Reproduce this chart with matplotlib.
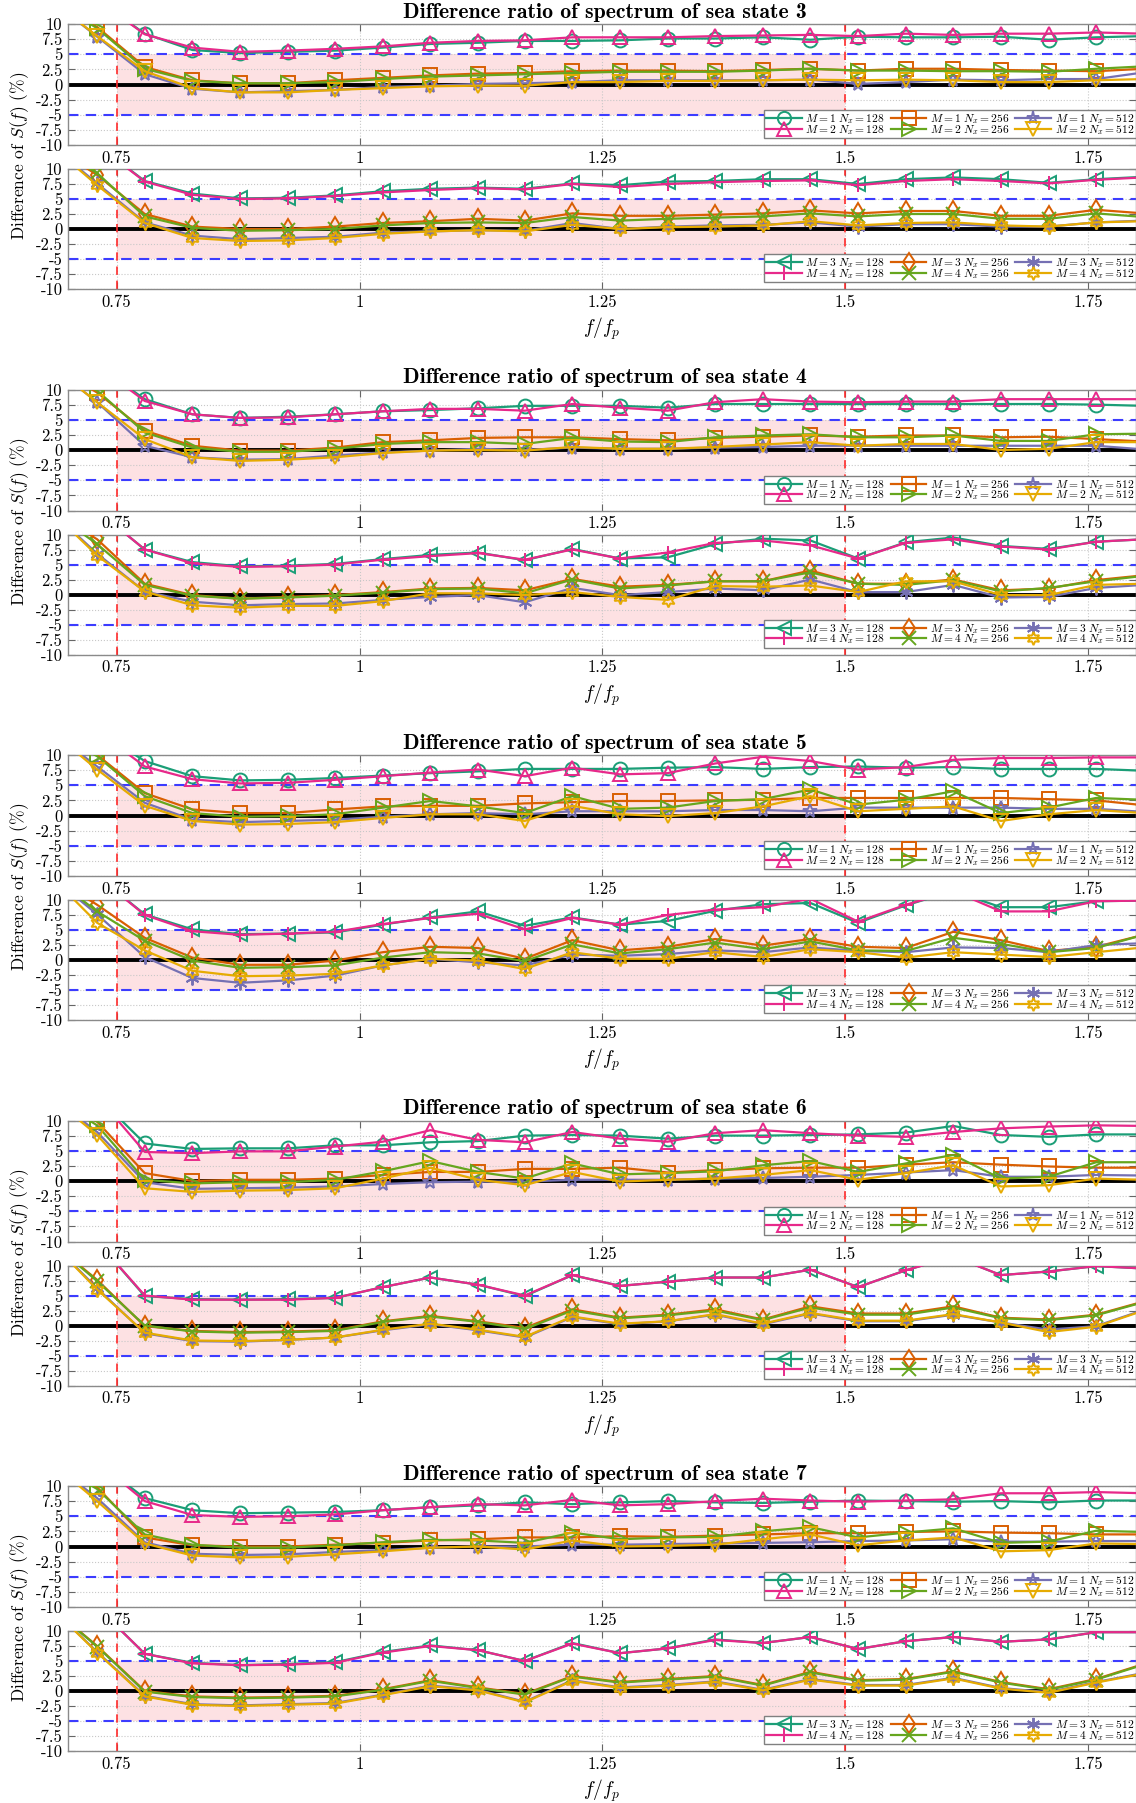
import matplotlib
matplotlib.use("Agg")
import matplotlib.pyplot as plt

plt.rcParams['font.family'] = 'cmr10'
plt.rcParams['mathtext.fontset'] = 'cm'
plt.rcParams['axes.unicode_minus'] = False

# frequency grid f/fp (first and last points fall outside the x range)
f_ratio = [0.682, 0.730, 0.779, 0.828, 0.877, 0.926, 0.975, 1.024, 1.073, 1.122, 1.170, 1.219,
           1.268, 1.317, 1.366, 1.415, 1.464, 1.513, 1.562, 1.611, 1.660, 1.709, 1.758, 1.807]

sea_states = [3, 4, 5, 6, 7]

# ---- sea state 3 ----
ss3_m1_128 = [20, 14, 8.4, 5.7, 5.2, 5.4, 5.6, 6.1, 6.7, 6.9, 7.2, 7.2, 7.3, 7.6, 7.6, 7.8, 7.4, 7.9, 7.8, 7.8, 7.9, 7.4, 7.8, 8.0]
ss3_m1_256 = [14, 9.5, 2.9, 0.7, 0.2, 0.2, 0.7, 1.1, 1.5, 1.8, 1.9, 2.2, 2.3, 2.3, 2.2, 2.4, 2.6, 2.3, 2.6, 2.6, 2.4, 2.3, 2.2, 2.6]
ss3_m1_512 = [14, 7.9, 1.7, -0.7, -1.3, -1.1, -0.9, -0.4, -0.2, 0.1, 0.2, 0.4, 0.7, 0.7, 0.7, 0.7, 0.8, 0.1, 0.4, 0.8, 0.7, 0.9, 0.9, 2.0]
ss3_m2_128 = [20, 14, 8.3, 6.1, 5.4, 5.6, 5.9, 6.3, 6.9, 7.2, 7.3, 7.8, 7.8, 7.8, 8.0, 8.1, 8.2, 8.0, 8.4, 8.2, 8.4, 8.4, 8.6, 8.4]
ss3_m2_256 = [14, 9.3, 2.6, 0.6, 0.2, 0.2, 0.4, 0.9, 1.3, 1.5, 1.7, 1.9, 2.1, 2.1, 2.1, 2.3, 2.6, 2.3, 2.3, 2.2, 2.2, 2.1, 2.6, 3.0]
ss3_m2_512 = [14, 8.0, 2.2, -0.6, -1.3, -1.3, -0.9, -0.6, -0.3, -0.2, -0.2, 0.4, 0.4, 0.6, 0.6, 0.7, 0.8, 0.7, 0.8, 0.7, 0.4, 0.4, 0.7, 0.9]
ss3_m3_128 = [20, 14, 8.0, 5.9, 5.1, 5.2, 5.6, 6.3, 6.7, 6.9, 6.7, 7.6, 7.3, 7.9, 8.0, 8.3, 8.3, 7.5, 8.3, 8.6, 8.3, 7.7, 8.3, 8.7]
ss3_m3_256 = [14, 9.0, 2.5, 0.4, 0.0, 0.0, 0.4, 1.0, 1.3, 1.7, 1.4, 2.6, 2.2, 2.2, 2.4, 2.6, 3.1, 2.6, 3.0, 3.0, 2.2, 2.2, 3.2, 2.6]
ss3_m3_512 = [14, 7.6, 1.1, -1.1, -1.7, -1.5, -1.3, -0.6, -0.4, -0.2, -0.3, 1.0, 0.0, 0.4, 0.6, 0.7, 1.1, 0.4, 0.8, 0.8, 0.4, 0.4, 1.1, 1.4]
ss3_m4_128 = [20, 14, 7.9, 5.7, 5.0, 5.1, 5.5, 6.1, 6.5, 6.8, 6.6, 7.5, 7.0, 7.5, 7.8, 8.0, 8.1, 7.3, 8.0, 8.3, 8.0, 7.6, 8.2, 8.6]
ss3_m4_256 = [14, 9.3, 2.1, 0.2, -0.3, -0.2, 0.0, 0.6, 1.0, 1.1, 1.0, 2.0, 1.4, 1.7, 1.9, 2.1, 2.6, 2.1, 2.5, 2.5, 1.7, 1.7, 2.6, 2.0]
ss3_m4_512 = [14, 7.3, 1.0, -1.5, -2.0, -1.9, -1.5, -0.8, -0.4, -0.2, -0.4, 0.7, 0.0, 0.3, 0.4, 0.6, 1.3, 0.6, 1.0, 1.1, 0.6, 0.4, 1.1, 1.3]

# ---- sea state 4 ----
ss4_m1_128 = [20, 14, 8.4, 5.9, 5.3, 5.5, 5.9, 6.4, 6.6, 6.9, 7.3, 7.3, 7.3, 7.0, 7.6, 7.6, 7.6, 7.6, 7.6, 7.6, 7.6, 7.6, 7.5, 7.3]
ss4_m1_256 = [14, 9.5, 3.2, 0.7, -0.1, -0.1, 0.4, 1.3, 1.6, 2.0, 2.1, 2.1, 1.8, 1.6, 2.0, 2.2, 2.4, 2.2, 2.4, 2.4, 2.1, 2.2, 1.8, 1.4]
ss4_m1_512 = [14, 7.9, 0.7, -1.2, -1.6, -1.5, -0.9, -0.4, -0.1, 0.2, 0.0, 0.4, 0.2, 0.2, 0.4, 0.5, 0.7, 0.7, 0.7, 0.7, 0.7, 0.7, 0.7, 0.1]
ss4_m2_128 = [20, 14, 8.1, 5.9, 5.3, 5.4, 5.9, 6.4, 6.8, 6.8, 6.5, 7.6, 7.0, 6.5, 7.9, 8.4, 8.0, 7.9, 8.0, 8.0, 8.4, 8.4, 8.4, 8.4]
ss4_m2_256 = [14, 9.8, 2.9, 0.4, -0.3, -0.3, 0.2, 1.0, 1.3, 1.3, 1.0, 2.0, 1.4, 1.3, 2.1, 2.4, 2.6, 2.1, 2.1, 2.4, 1.5, 1.5, 2.6, 2.7]
ss4_m2_512 = [14, 7.9, 1.8, -1.2, -1.8, -1.6, -1.2, -0.5, -0.1, 0.0, -0.1, 0.5, 0.2, 0.2, 0.5, 0.9, 1.3, 0.7, 1.0, 1.0, 0.0, 0.2, 1.3, 1.3]
ss4_m3_128 = [20, 14, 7.5, 5.4, 4.7, 4.8, 5.1, 5.9, 6.6, 7.0, 5.7, 7.6, 6.0, 6.2, 8.4, 9.3, 9.0, 6.0, 8.7, 9.5, 8.1, 7.6, 8.8, 9.2]
ss4_m3_256 = [14, 9.2, 1.8, -0.1, -0.7, -0.4, -0.1, 0.4, 1.0, 1.1, 0.7, 2.6, 1.3, 1.6, 2.2, 2.2, 4.0, 1.8, 1.8, 2.5, 0.7, 1.0, 2.4, 3.2]
ss4_m3_512 = [14, 6.8, 0.5, -1.2, -1.8, -1.6, -1.5, -0.9, -0.4, -0.1, -1.3, 1.1, -0.1, 0.4, 1.0, 0.7, 2.5, 0.4, 0.4, 1.6, -0.5, -0.4, 1.1, 1.6]
ss4_m4_128 = [20, 14, 7.5, 5.2, 4.6, 4.7, 5.0, 5.8, 6.4, 6.9, 5.8, 7.5, 6.0, 7.0, 8.6, 9.0, 8.2, 6.0, 8.6, 9.2, 8.0, 7.5, 8.8, 9.2]
ss4_m4_256 = [14, 8.4, 1.6, -0.2, -0.7, -0.5, -0.2, 0.3, 0.9, 1.0, 0.2, 2.5, 1.0, 1.5, 2.2, 2.2, 3.7, 1.8, 1.6, 2.4, 0.5, 1.1, 2.2, 3.1]
ss4_m4_512 = [14, 6.5, 0.5, -1.8, -2.2, -1.9, -1.9, -1.1, 0.2, 0.2, -0.1, 0.4, -0.4, -0.9, 1.4, 1.3, 1.5, 0.4, 2.2, 2.2, -0.1, -0.1, 1.6, 1.8]

# ---- sea state 5 ----
ss5_m1_128 = [20, 14, 9.0, 6.5, 5.8, 5.9, 6.2, 6.6, 7.0, 7.3, 7.7, 7.7, 7.7, 7.9, 8.0, 7.7, 8.0, 8.1, 7.9, 8.0, 7.7, 7.7, 7.7, 7.4]
ss5_m1_256 = [14, 10.0, 3.7, 1.0, 0.4, 0.4, 1.0, 1.5, 1.6, 1.6, 2.0, 2.2, 2.4, 2.4, 2.5, 2.6, 2.9, 2.9, 2.9, 2.9, 2.9, 2.7, 2.5, 1.7]
ss5_m1_512 = [14, 8.1, 2.1, -0.7, -1.1, -0.9, -0.7, -0.2, 0.2, 0.4, 0.2, 0.7, 0.7, 0.7, 0.9, 0.9, 0.7, 1.3, 1.3, 1.3, 1.3, 1.1, 1.1, 0.6]
ss5_m2_128 = [20, 14, 8.1, 6.0, 5.3, 5.4, 5.9, 6.5, 7.1, 7.6, 6.5, 7.9, 6.8, 7.0, 8.6, 9.7, 9.0, 7.6, 8.0, 9.2, 9.5, 9.5, 9.6, 9.6]
ss5_m2_256 = [14, 9.8, 3.2, 0.4, -0.2, -0.1, 0.2, 1.3, 2.4, 1.5, 0.4, 3.2, 1.1, 1.3, 2.4, 2.7, 4.3, 1.8, 2.6, 4.0, 0.4, 1.3, 2.9, 2.6]
ss5_m2_512 = [14, 7.6, 1.6, -0.9, -1.5, -1.4, -1.1, -0.4, 0.2, 0.2, -0.9, 1.6, 0.2, -0.1, 0.4, 1.5, 3.2, 0.7, 1.1, 1.5, -0.9, 0.2, 0.9, 0.4]
ss5_m3_128 = [20, 14, 7.6, 5.1, 4.3, 4.4, 4.6, 5.9, 7.1, 8.1, 5.7, 7.1, 5.9, 6.5, 8.2, 9.3, 9.5, 6.2, 9.1, 11.5, 8.8, 8.8, 9.8, 9.9]
ss5_m3_256 = [14, 9.2, 3.7, 0.4, -0.8, -0.8, -0.1, 1.3, 2.2, 2.0, 0.2, 3.3, 1.6, 2.2, 3.5, 2.4, 3.5, 2.2, 2.0, 4.7, 3.3, 1.5, 2.2, 4.2]
ss5_m3_512 = [14, 7.6, 0.5, -3.0, -3.8, -3.4, -2.6, -0.9, 0.2, -0.4, -0.9, 0.9, 0.7, 1.0, 1.6, 1.3, 2.1, 1.5, 1.3, 2.1, 2.0, 1.3, 2.5, 2.8]
ss5_m4_128 = [20, 14, 7.5, 4.8, 4.2, 4.4, 4.7, 6.0, 7.0, 7.7, 5.1, 7.0, 5.9, 7.5, 8.4, 8.8, 10.2, 6.4, 9.2, 11.5, 8.1, 8.1, 9.8, 9.9]
ss5_m4_256 = [14, 8.1, 3.2, -0.1, -1.3, -1.2, -0.9, 0.4, 1.3, 1.1, -0.2, 2.6, 1.1, 1.8, 2.9, 1.8, 3.1, 1.6, 1.5, 3.7, 2.7, 1.3, 2.0, 4.2]
ss5_m4_512 = [14, 6.2, 1.6, -1.8, -2.7, -2.6, -2.3, -0.9, 0.2, -0.1, -1.5, 1.3, 0.2, 0.2, 1.3, 0.5, 1.8, 1.3, 0.4, 1.3, 0.9, 0.5, 1.3, 2.1]

# ---- sea state 6 ----
ss6_m1_128 = [20, 14, 6.2, 5.3, 5.4, 5.4, 5.9, 5.9, 6.4, 6.6, 7.5, 7.6, 7.5, 7.0, 7.5, 7.5, 7.6, 7.7, 8.0, 9.1, 7.6, 7.3, 7.7, 7.7]
ss6_m1_256 = [14, 9.8, 1.3, 0.0, 0.2, 0.2, 0.4, 1.0, 1.5, 1.5, 2.0, 2.0, 2.2, 1.4, 1.8, 2.1, 2.2, 2.2, 2.7, 3.1, 2.7, 2.4, 2.2, 2.2]
ss6_m1_512 = [14, 8.1, -0.2, -1.3, -1.2, -1.1, -0.9, -0.5, -0.2, -0.1, -0.1, 0.2, 0.2, 0.2, 0.4, 0.5, 0.7, 1.0, 1.4, 1.8, 0.7, 0.7, 1.0, 0.9]
ss6_m2_128 = [20, 14, 4.8, 4.6, 4.9, 4.9, 5.7, 6.5, 8.4, 6.8, 6.4, 8.1, 7.0, 6.5, 7.9, 8.4, 7.9, 7.5, 7.3, 8.1, 8.7, 9.0, 9.2, 9.1]
ss6_m2_256 = [14, 9.2, 0.2, -0.4, -0.2, -0.2, 0.2, 1.6, 3.3, 1.5, 0.4, 2.9, 1.1, 1.3, 1.6, 2.6, 3.3, 1.5, 2.9, 4.3, 0.4, 0.7, 3.1, 3.1]
ss6_m2_512 = [14, 7.6, -1.2, -1.8, -1.6, -1.5, -1.2, 0.4, 2.2, 0.2, -0.7, 1.5, -0.1, 0.2, 0.4, 1.0, 1.8, 0.2, 1.3, 2.6, -0.9, -0.7, 0.4, 0.2]
ss6_m3_128 = [20, 14, 4.9, 4.4, 4.3, 4.4, 4.6, 6.4, 8.0, 6.8, 4.9, 8.4, 6.6, 7.3, 8.0, 8.0, 9.3, 6.4, 9.2, 11.5, 8.4, 9.0, 9.9, 9.5]
ss6_m3_256 = [14, 7.6, -0.1, -0.9, -1.1, -1.0, -0.8, 0.7, 1.6, 0.7, -0.4, 2.7, 1.3, 1.8, 2.7, 1.0, 3.2, 2.0, 2.0, 3.2, 1.3, 1.0, 1.8, 4.0]
ss6_m3_512 = [14, 6.2, -1.3, -2.6, -2.7, -2.4, -2.0, -0.8, 0.2, -0.8, -2.0, 1.4, 0.2, 0.7, 1.8, 0.2, 2.0, 0.7, 0.7, 1.8, 0.5, -0.7, -0.1, 2.6]
ss6_m4_128 = [20, 14, 5.0, 4.3, 4.3, 4.3, 4.6, 6.4, 8.0, 6.8, 5.0, 8.4, 6.6, 7.3, 8.0, 8.0, 9.3, 6.4, 9.2, 11.5, 8.4, 9.0, 9.9, 9.5]
ss6_m4_256 = [14, 7.4, 0.0, -1.0, -1.2, -1.1, -0.9, 0.6, 1.5, 0.6, -0.6, 2.5, 1.2, 1.7, 2.5, 0.9, 3.0, 1.8, 1.8, 3.0, 1.2, 0.9, 1.7, 3.9]
ss6_m4_512 = [14, 6.0, -1.2, -2.5, -2.6, -2.4, -2.0, -0.7, 0.3, -0.7, -1.9, 1.5, 0.3, 0.7, 1.9, 0.3, 2.1, 0.8, 0.8, 1.9, 0.5, -1.1, -0.2, 2.5]

# ---- sea state 7 ----
ss7_m1_128 = [20, 14, 8.0, 6.0, 5.5, 5.6, 5.7, 6.0, 6.5, 6.8, 7.3, 7.0, 7.3, 7.5, 7.3, 7.2, 7.4, 7.6, 7.5, 7.4, 7.5, 7.3, 7.6, 7.6]
ss7_m1_256 = [14, 9.8, 1.5, 0.2, 0.0, 0.0, 0.3, 0.6, 1.0, 1.2, 1.5, 1.5, 1.7, 1.6, 1.8, 2.0, 2.2, 2.2, 2.4, 2.5, 2.3, 2.2, 2.0, 2.0]
ss7_m1_512 = [14, 8.0, 0.7, -1.2, -1.4, -1.3, -0.9, -0.6, -0.2, 0.0, 0.0, 0.3, 0.3, 0.4, 0.5, 0.6, 0.7, 0.9, 1.0, 1.2, 0.8, 0.8, 0.9, 0.9]
ss7_m2_128 = [20, 14, 7.5, 5.2, 4.9, 5.0, 5.3, 6.0, 6.5, 7.0, 6.8, 7.7, 6.8, 7.0, 7.5, 7.9, 7.6, 7.4, 7.6, 7.8, 8.8, 8.8, 9.0, 8.8]
ss7_m2_256 = [14, 9.5, 2.0, 0.3, -0.2, -0.2, 0.2, 0.7, 1.1, 1.0, 0.6, 2.3, 1.2, 1.5, 1.6, 2.5, 3.2, 1.5, 2.3, 3.0, 0.6, 0.8, 2.6, 2.4]
ss7_m2_512 = [14, 7.5, 0.5, -1.5, -1.8, -1.7, -1.3, -0.8, -0.2, 0.0, -0.5, 1.0, 0.0, 0.1, 0.3, 1.2, 2.0, 0.2, 1.0, 1.5, -0.8, -0.6, 0.5, 0.4]
ss7_m3_128 = [20, 14, 6.2, 4.7, 4.3, 4.5, 4.8, 6.5, 7.6, 6.8, 5.0, 8.0, 6.3, 7.1, 8.6, 8.0, 9.0, 7.0, 8.3, 9.0, 8.2, 8.6, 9.8, 9.8]
ss7_m3_256 = [14, 7.5, 0.0, -0.9, -1.1, -1.0, -0.8, 0.3, 1.8, 0.6, -0.5, 2.5, 1.5, 2.0, 2.5, 1.0, 3.2, 1.8, 2.0, 3.3, 1.5, 0.3, 2.0, 4.5]
ss7_m3_512 = [14, 6.5, -0.8, -2.2, -2.4, -2.2, -2.0, -0.6, 0.9, 0.2, -1.8, 1.8, 0.6, 1.0, 1.6, 0.2, 2.0, 1.0, 1.0, 2.2, 0.5, -0.2, 1.5, 3.0]
ss7_m4_128 = [20, 14, 6.2, 4.6, 4.3, 4.4, 4.7, 6.4, 7.5, 6.8, 5.0, 7.9, 6.3, 7.1, 8.5, 8.0, 9.0, 7.0, 8.3, 9.0, 8.2, 8.6, 9.8, 9.8]
ss7_m4_256 = [14, 7.4, -0.1, -1.0, -1.2, -1.1, -0.9, 0.2, 1.7, 0.5, -0.6, 2.4, 1.4, 1.9, 2.4, 0.9, 3.1, 1.7, 1.9, 3.2, 1.4, 0.2, 1.9, 4.4]
ss7_m4_512 = [14, 6.4, -0.9, -2.3, -2.5, -2.3, -2.1, -0.7, 0.8, 0.1, -1.9, 1.7, 0.5, 0.9, 1.5, 0.1, 1.9, 0.9, 0.9, 2.1, 0.4, -0.3, 1.4, 2.9]

top_series = {
    3: [ss3_m1_128, ss3_m1_256, ss3_m1_512, ss3_m2_128, ss3_m2_256, ss3_m2_512],
    4: [ss4_m1_128, ss4_m1_256, ss4_m1_512, ss4_m2_128, ss4_m2_256, ss4_m2_512],
    5: [ss5_m1_128, ss5_m1_256, ss5_m1_512, ss5_m2_128, ss5_m2_256, ss5_m2_512],
    6: [ss6_m1_128, ss6_m1_256, ss6_m1_512, ss6_m2_128, ss6_m2_256, ss6_m2_512],
    7: [ss7_m1_128, ss7_m1_256, ss7_m1_512, ss7_m2_128, ss7_m2_256, ss7_m2_512],
}
bottom_series = {
    3: [ss3_m3_128, ss3_m3_256, ss3_m3_512, ss3_m4_128, ss3_m4_256, ss3_m4_512],
    4: [ss4_m3_128, ss4_m3_256, ss4_m3_512, ss4_m4_128, ss4_m4_256, ss4_m4_512],
    5: [ss5_m3_128, ss5_m3_256, ss5_m3_512, ss5_m4_128, ss5_m4_256, ss5_m4_512],
    6: [ss6_m3_128, ss6_m3_256, ss6_m3_512, ss6_m4_128, ss6_m4_256, ss6_m4_512],
    7: [ss7_m3_128, ss7_m3_256, ss7_m3_512, ss7_m4_128, ss7_m4_256, ss7_m4_512],
}

top_labels = [r'$M = 1\ N_x = 128$', r'$M = 1\ N_x = 256$', r'$M = 1\ N_x = 512$',
              r'$M = 2\ N_x = 128$', r'$M = 2\ N_x = 256$', r'$M = 2\ N_x = 512$']
bottom_labels = [r'$M = 3\ N_x = 128$', r'$M = 3\ N_x = 256$', r'$M = 3\ N_x = 512$',
                 r'$M = 4\ N_x = 128$', r'$M = 4\ N_x = 256$', r'$M = 4\ N_x = 512$']
top_markers = ['o', 's', '*', '^', '>', 'v']
bottom_markers = ['<', 'd', (6, 2, 0), '+', 'x', (6, 1, 0)]
colors = ['#1b9e77', '#d95f02', '#7570b3', '#e7298a', '#66a61e', '#e6ab02']

xticks = [0.75, 1, 1.25, 1.5, 1.75]
xtick_labels = ['0.75', '1', '1.25', '1.5', '1.75']
yticks = [-10, -7.5, -5, -2.5, 0, 2.5, 5, 7.5, 10]
ytick_labels = ['-10', '-7.5', '-5', '-2.5', '0', '2.5', '5', '7.5', '10']

W, H = 1136, 1803
fig = plt.figure(figsize=(W / 100, H / 100), dpi=100)


def draw_panel(ax, series, labels, markers):
    ax.fill_between([0.75, 1.5], -5, 5, color='#fde1e3', lw=0, zorder=0)
    ax.axhline(0, color='k', lw=2.8, zorder=2)
    for yv in (5, -5):
        ax.axhline(yv, color='#3c3cff', lw=1.5, ls=(0, (5, 3.5)), zorder=2)
    for xv in (0.75, 1.5):
        ax.axvline(xv, color='#ff2a2a', lw=1.2, ls=(0, (5, 3.5)), zorder=2)

    handles = []
    for vals, lab, mk, c in zip(series, labels, markers, colors):
        h, = ax.plot(f_ratio, vals, color=c, lw=1.6, marker=mk, ms=10, mfc='none',
                     mew=1.4, label=lab, zorder=3)
        handles.append(h)

    ax.set_xlim(0.7, 1.799)
    ax.set_ylim(-10, 10)
    ax.set_xticks(xticks)
    ax.set_xticklabels(xtick_labels)
    ax.set_yticks(yticks)
    ax.set_yticklabels(ytick_labels)
    ax.tick_params(direction='in', top=True, right=True, length=5, color='#666666',
                   labelsize=12, pad=4)
    ax.grid(True, color='#c8c8c8', ls=':', lw=0.8)
    for sp in ax.spines.values():
        sp.set_color('#8a8a8a')
        sp.set_linewidth(1.0)

    # legend filled row by row like the original
    order = [0, 3, 1, 4, 2, 5]
    ax.legend([handles[i] for i in order], [labels[i] for i in order], ncol=3,
              loc='lower right', bbox_to_anchor=(1.0, 0.055), fontsize=8.3,
              handlelength=3.1, handletextpad=0.3, columnspacing=0.5,
              labelspacing=-0.3, borderpad=0.15, borderaxespad=0.0,
              framealpha=1, fancybox=False, edgecolor='#808080', markerscale=0.95)


left = 68 / W
width = 1 - left
period = 365.5
for g, ss in enumerate(sea_states):
    y0 = 24 + period * g
    ax_top = fig.add_axes([left, 1 - (y0 + 121) / H, width, 121 / H])
    ax_bot = fig.add_axes([left, 1 - (y0 + 145 + 120) / H, width, 120 / H])
    draw_panel(ax_top, top_series[ss], top_labels, top_markers)
    draw_panel(ax_bot, bottom_series[ss], bottom_labels, bottom_markers)

    fig.text(605 / W, 1 - (y0 - 12) / H, f'Difference ratio of spectrum of sea state {ss}',
             ha='center', va='center', fontsize=15.7, family='cmb10')
    fig.text(602 / W, 1 - (y0 + 305) / H, r'$f/f_p$', ha='center', va='center', fontsize=14)
    fig.text(20 / W, 1 - (y0 + 132) / H, r'Difference of $S(f)$ (%)', ha='center',
             va='center', rotation=90, fontsize=12.5)

fig.savefig('out.png', dpi=100, facecolor='white')
